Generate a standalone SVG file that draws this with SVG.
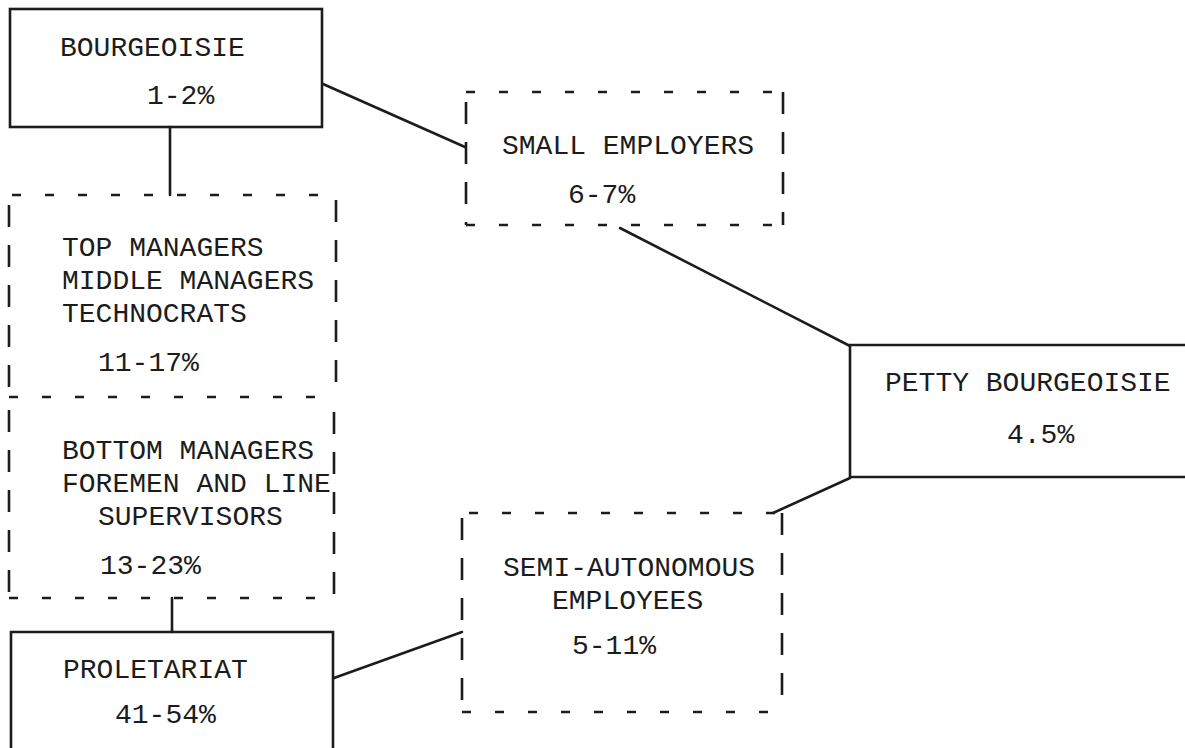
<svg xmlns="http://www.w3.org/2000/svg" width="1185" height="748" viewBox="0 0 1185 748">
<style>
.bg{fill:#ffffff}
.box{fill:none;stroke:#1c1c1c;stroke-width:2.6}
.dh{fill:none;stroke:#1c1c1c;stroke-width:2.6;stroke-dasharray:9 24}
.dv{fill:none;stroke:#1c1c1c;stroke-width:2.6;stroke-dasharray:22 18}
.con{fill:none;stroke:#1c1c1c;stroke-width:2.6;stroke-linecap:round}
text{font-family:"Liberation Mono","DejaVu Sans Mono",monospace;font-size:28px;fill:#1c1c1c}
</style>
<rect class="bg" x="0" y="0" width="1185" height="748"/>
<g id="connectors">
<line class="con" x1="170" y1="127" x2="170" y2="195"/>
<line class="con" x1="323" y1="84" x2="465" y2="147"/>
<line class="con" x1="172" y1="598" x2="172" y2="632"/>
<line class="con" x1="334" y1="678" x2="462" y2="632"/>
<line class="con" x1="620" y1="228" x2="850" y2="346"/>
<line class="con" x1="850" y1="478" x2="773" y2="513"/>
</g>
<g id="bourgeoisie">
<rect class="box" x="10" y="9" width="312" height="118"/>
<text x="60" y="56">BOURGEOISIE</text>
<text x="147" y="104">1-2%</text>
</g>
<g id="managers">
<line class="dh" x1="12" y1="195" x2="337" y2="195"/>
<line class="dv" x1="9" y1="205" x2="9" y2="397"/>
<line class="dv" x1="336" y1="200" x2="336" y2="397"/>
<text x="62" y="256">TOP MANAGERS</text>
<text x="62" y="289">MIDDLE MANAGERS</text>
<text x="62" y="322">TECHNOCRATS</text>
<text x="98" y="371">11-17%</text>
</g>
<g id="supervisors">
<line class="dh" x1="9" y1="397" x2="336" y2="397"/>
<line class="dv" x1="9" y1="410" x2="9" y2="598"/>
<line class="dv" x1="334" y1="412" x2="334" y2="598"/>
<line class="dh" x1="9" y1="598" x2="334" y2="598"/>
<text x="62" y="459">BOTTOM MANAGERS</text>
<text x="62" y="492">FOREMEN AND LINE</text>
<text x="98" y="525">SUPERVISORS</text>
<text x="100" y="574">13-23%</text>
</g>
<g id="proletariat">
<path class="box" d="M11 760 V632 H333 V760"/>
<text x="63" y="678">PROLETARIAT</text>
<text x="115" y="723">41-54%</text>
</g>
<g id="small-employers">
<line class="dh" x1="466" y1="92" x2="783" y2="92"/>
<line class="dv" x1="466" y1="102" x2="466" y2="225"/>
<line class="dv" x1="783" y1="92" x2="783" y2="225"/>
<line class="dh" x1="466" y1="225" x2="783" y2="225"/>
<text x="502" y="154">SMALL EMPLOYERS</text>
<text x="568" y="203">6-7%</text>
</g>
<g id="petty-bourgeoisie">
<path class="box" d="M1190 345 H850 V477 H1190"/>
<text x="885" y="391">PETTY BOURGEOISIE</text>
<text x="1007" y="443">4.5%</text>
</g>
<g id="semi-autonomous">
<line class="dh" x1="469" y1="513" x2="782" y2="513"/>
<line class="dv" x1="462" y1="518" x2="462" y2="712"/>
<line class="dv" x1="782" y1="513" x2="782" y2="712"/>
<line class="dh" x1="462" y1="712" x2="782" y2="712"/>
<text x="503" y="576">SEMI-AUTONOMOUS</text>
<text x="552" y="609">EMPLOYEES</text>
<text x="572" y="654">5-11%</text>
</g>
</svg>
